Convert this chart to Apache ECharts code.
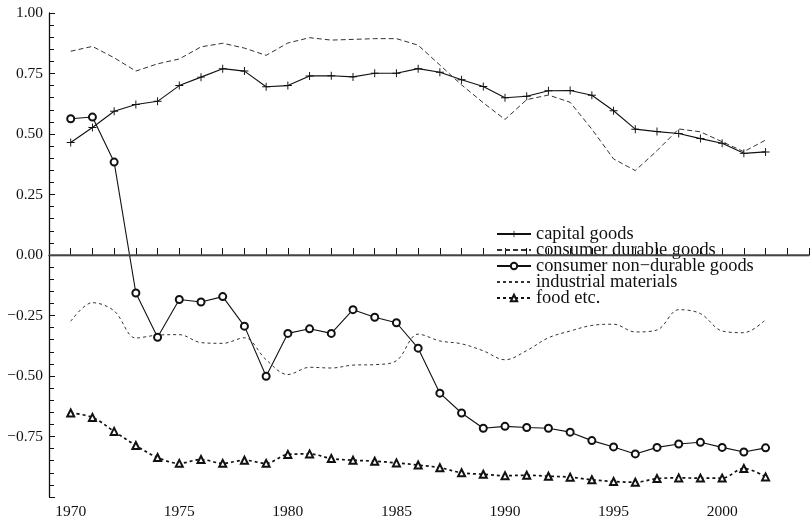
<!DOCTYPE html>
<html>
<head>
<meta charset="utf-8">
<title>Correlation by sector</title>
<script src="https://cdn.jsdelivr.net/npm/echarts@6/dist/echarts.min.js"></script>
<style>
  html, body { margin: 0; padding: 0; background: #fff; }
  #chart { width: 812px; height: 520px; }
</style>
</head>
<body>
<div id="chart"></div>
<script>
// Years on the horizontal axis
const years = [1970,1971,1972,1973,1974,1975,1976,1977,1978,1979,1980,1981,1982,1983,1984,1985,1986,1987,1988,1989,1990,1991,1992,1993,1994,1995,1996,1997,1998,1999,2000,2001,2002];

// Series values, one per year
const capitalGoods = [0.465,0.527,0.594,0.622,0.635,0.700,0.735,0.770,0.760,0.695,0.700,0.740,0.741,0.736,0.751,0.751,0.770,0.755,0.724,0.696,0.650,0.656,0.679,0.680,0.660,0.596,0.520,0.510,0.502,0.481,0.462,0.420,0.426];
const consumerDurable = [0.842,0.862,0.815,0.760,0.790,0.810,0.860,0.875,0.855,0.825,0.876,0.898,0.888,0.891,0.894,0.894,0.867,0.785,0.703,0.629,0.560,0.642,0.661,0.631,0.520,0.397,0.349,0.431,0.521,0.509,0.468,0.427,0.475];
const consumerNonDurable = [0.563,0.570,0.384,-0.157,-0.340,-0.184,-0.194,-0.172,-0.294,-0.501,-0.324,-0.305,-0.324,-0.226,-0.257,-0.280,-0.385,-0.571,-0.653,-0.716,-0.708,-0.713,-0.716,-0.732,-0.767,-0.793,-0.822,-0.795,-0.781,-0.774,-0.795,-0.814,-0.797];
const industrialMaterials = [-0.274,-0.197,-0.231,-0.343,-0.331,-0.329,-0.362,-0.365,-0.342,-0.433,-0.494,-0.464,-0.467,-0.455,-0.453,-0.437,-0.327,-0.355,-0.367,-0.396,-0.433,-0.395,-0.342,-0.314,-0.291,-0.286,-0.318,-0.310,-0.226,-0.242,-0.314,-0.321,-0.267];
const foodEtc = [-0.653,-0.671,-0.729,-0.787,-0.837,-0.861,-0.845,-0.861,-0.848,-0.861,-0.824,-0.822,-0.841,-0.848,-0.852,-0.859,-0.868,-0.879,-0.900,-0.906,-0.912,-0.910,-0.914,-0.918,-0.929,-0.936,-0.939,-0.924,-0.921,-0.922,-0.922,-0.882,-0.917];

// Legend names
const seriesNames = ['capital goods','consumer durable goods','consumer non\u2212durable goods','industrial materials','food etc.'];

const pairs = vals => years.map((y, i) => [y, vals[i]]);
const FONT = "'Liberation Serif', 'Times New Roman', 'DejaVu Serif', serif";
const INK = '#111';
const plusSymbol = 'path://M4.4,0h1.2v4.4h4.4v1.2h-4.4v4.4h-1.2v-4.4h-4.4v-1.2h4.4z';
// plain lines: a square marker kept fully transparent, also in the legend
const hiddenMark = 'path://M0,0L10,0L10,10L0,10Z';

const chart = echarts.init(document.getElementById('chart'), null, { renderer: 'canvas' });

chart.setOption({
  animation: false,
  backgroundColor: '#fff',
  textStyle: { fontFamily: FONT },
  grid: { left: 49, right: 0, top: 13, bottom: 17, containLabel: false },
  legend: {
    orient: 'vertical',
    left: 491,
    top: 220,
    itemWidth: 34,
    itemHeight: 8,
    itemGap: -2,
    data: [
      { name: seriesNames[0] },
      { name: seriesNames[1], itemStyle: { opacity: 0 } },
      { name: seriesNames[2] },
      { name: seriesNames[3], itemStyle: { opacity: 0 } },
      { name: seriesNames[4] }
    ],
    textStyle: { fontFamily: FONT, fontSize: 18.4, lineHeight: 16, color: INK, padding: [0, 0, 0, 0] }
  },
  xAxis: {
    type: 'value',
    min: 1969,
    max: 2004,
    interval: 1,
    axisLine: { lineStyle: { color: INK, width: 1.3 } },
    axisTick: { inside: true, length: 7, lineStyle: { color: INK, width: 1 } },
    axisLabel: {
      fontFamily: FONT, fontSize: 15.5, color: INK, margin: 7,
      formatter: v => (v % 5 === 0 && v >= 1970 && v <= 2000) ? String(v) : ''
    },
    splitLine: { show: false }
  },
  yAxis: {
    type: 'value',
    min: -1,
    max: 1,
    interval: 0.25,
    axisLine: { show: true, lineStyle: { color: INK, width: 1.3 } },
    axisTick: { show: true, inside: true, length: 6, lineStyle: { color: INK, width: 1 } },
    minorTick: { show: true, splitNumber: 5, length: 5, lineStyle: { color: INK, width: 1 } },
    axisLabel: {
      fontFamily: FONT, fontSize: 15.5, color: INK, margin: 6,
      formatter: v => v <= -1 ? '' : (v < 0 ? '\u2212' + Math.abs(v).toFixed(2) : v.toFixed(2))
    },
    splitLine: { show: false }
  },
  series: [
    {
      name: seriesNames[0], type: 'line', data: pairs(capitalGoods),
      symbol: plusSymbol, symbolSize: 8,
      itemStyle: { color: INK },
      lineStyle: { color: INK, width: 1.1, type: 'solid' },
      markLine: {
        silent: true, symbol: 'none', label: { show: false },
        lineStyle: { color: '#555', width: 1.6, type: 'solid' },
        data: [{ yAxis: 0 }]
      }
    },
    {
      name: seriesNames[1], type: 'line', data: pairs(consumerDurable),
      showSymbol: false, symbol: hiddenMark, symbolSize: 4,
      itemStyle: { color: '#333', opacity: 0 },
      lineStyle: { color: '#333', width: 1, type: [5, 3] }
    },
    {
      name: seriesNames[2], type: 'line', data: pairs(consumerNonDurable),
      symbol: 'emptyCircle', symbolSize: 7,
      itemStyle: { color: INK, borderWidth: 1 },
      lineStyle: { color: INK, width: 1.1, type: 'solid' }
    },
    {
      name: seriesNames[3], type: 'line', data: pairs(industrialMaterials),
      showSymbol: false, symbol: hiddenMark, symbolSize: 4, smooth: 0.35,
      itemStyle: { color: '#333', opacity: 0 },
      lineStyle: { color: '#333', width: 1, type: [3, 3] }
    },
    {
      name: seriesNames[4], type: 'line', data: pairs(foodEtc),
      symbol: 'emptyTriangle', symbolSize: 7, smooth: 0.35,
      itemStyle: { color: INK, borderWidth: 1.5 },
      lineStyle: { color: INK, width: 1.7, type: [3, 3] }
    }
  ]
});
</script>
</body>
</html>
